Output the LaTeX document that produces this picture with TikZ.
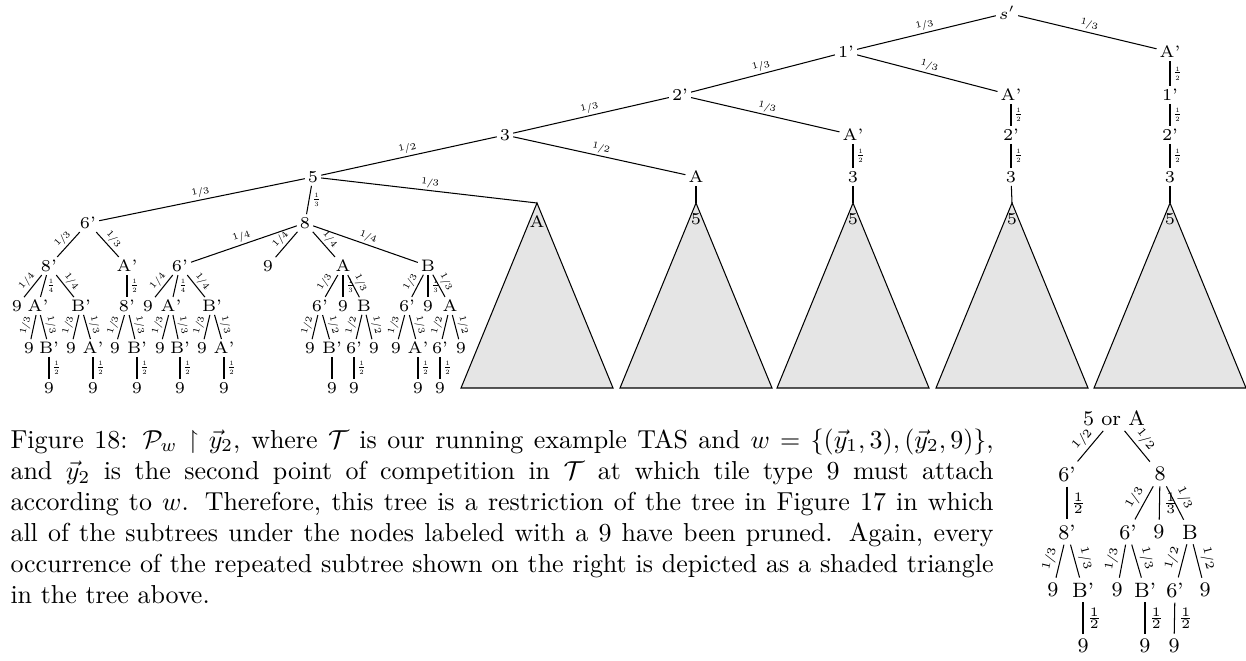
\RequirePackage{fix-cm}
\documentclass[tikz,border=0pt]{standalone}
\usepackage{amssymb}
\newcommand{\qfr}[2]{\raisebox{0.15em}{#1}\kern-0.05em/\kern-0.05em#2}
\newcommand{\hfr}[2]{$\frac{#1}{#2}$}
\tikzset{
  tn/.style={font=\fontsize{6.4}{7.5}\selectfont, inner sep=1pt},
  rn/.style={font=\fontsize{8}{9.5}\selectfont, inner sep=1.8pt},
  sl/.style={midway, sloped, above, inner sep=0.8pt, font=\fontsize{3.6}{4}\selectfont},
  fr/.style={midway, right, inner sep=0.7pt, font=\fontsize{3.6}{4}\selectfont},
  rsl/.style={midway, sloped, above, inner sep=1.3pt, font=\fontsize{4.6}{5.5}\selectfont},
  rfr/.style={midway, right, inner sep=1.2pt, font=\fontsize{5}{6}\selectfont},
  tri/.style={draw, fill=black!10},
  tl/.style={inner sep=0pt, font=\fontsize{6.4}{7.5}\selectfont},
  captxt/.style={anchor=north west, inner sep=0pt, text width=378.5pt, align=justify, font=\fontsize{10}{12}\selectfont},
}
\begin{document}
\begin{tikzpicture}[x=0.385pt, y=-0.385pt]
\useasboundingbox (0,0) rectangle (1246,660);
% ---------- top part ----------
\node[tn] (sp) at (1007,13) {$s'$};
\node[tn] (a1) at (846,52) {1'};
\node[tn] (b1) at (1170,52) {A'};
\node[tn] (a2) at (680,95) {2'};
\node[tn] (b2) at (1011,95) {A'};
\node[tn] (c2) at (1170,95) {1'};
\node[tn] (a3) at (505,135) {3};
\node[tn] (b3) at (853,135) {A'};
\node[tn] (c3) at (1011,135) {2'};
\node[tn] (d3) at (1170,135) {2'};
\node[tn] (a4) at (313,177) {5};
\node[tn] (b4) at (696,177) {A};
\node[tn] (c4) at (853,177) {3};
\node[tn] (d4) at (1011,177) {3};
\node[tn] (e4) at (1170,177) {3};
% ---------- triangles ----------
\coordinate (t1) at (537,203);
\coordinate (t2) at (696,203);
\coordinate (t3) at (853,203);
\coordinate (t4) at (1012,203);
\coordinate (t5) at (1170,203);
\draw[tri] (t1) -- ++(-76,185) -- ++(152,0) -- cycle;
\draw[tri] (t2) -- ++(-76,185) -- ++(152,0) -- cycle;
\draw[tri] (t3) -- ++(-76,185) -- ++(152,0) -- cycle;
\draw[tri] (t4) -- ++(-76,185) -- ++(152,0) -- cycle;
\draw[tri] (t5) -- ++(-76,185) -- ++(152,0) -- cycle;
\node[tl] (t1l) at (537,222) {A};
\node[tl] (t2l) at (696,219) {5};
\node[tl] (t3l) at (853,219) {5};
\node[tl] (t4l) at (1012,219) {5};
\node[tl] (t5l) at (1170,219) {5};
% ---------- left subtree ----------
\node[tn] (m6) at (88,223) {6'};
\node[tn] (m8) at (305,223) {8};
\node[tn] (p8) at (49,266) {8'};
\node[tn] (pA) at (127,266) {A'};
\node[tn] (q6) at (180,266) {6'};
\node[tn] (q9) at (268,266) {9};
\node[tn] (qA) at (343,266) {A};
\node[tn] (qB) at (428,266) {B};
\node[tn] (u1) at (17,306) {9};
\node[tn] (u2) at (38,306) {A'};
\node[tn] (u3) at (81,306) {B'};
\node[tn] (u4) at (127,306) {8'};
\node[tn] (u5) at (148,306) {9};
\node[tn] (u6) at (171,306) {A'};
\node[tn] (u7) at (212,306) {B'};
\node[tn] (u8) at (320,306) {6'};
\node[tn] (u9) at (343,306) {9};
\node[tn] (u10) at (364,306) {B};
\node[tn] (u11) at (407,306) {6'};
\node[tn] (u12) at (428,306) {9};
\node[tn] (u13) at (450,306) {A};
\node[tn] (v1) at (29,348) {9};
\node[tn] (v2) at (49,348) {B'};
\node[tn] (v3) at (71,348) {9};
\node[tn] (v4) at (93,348) {A'};
\node[tn] (v5) at (115,348) {9};
\node[tn] (v6) at (137,348) {B'};
\node[tn] (v7) at (160,348) {9};
\node[tn] (v8) at (180,348) {B'};
\node[tn] (v9) at (202,348) {9};
\node[tn] (v10) at (224,348) {A'};
\node[tn] (v11) at (310,348) {9};
\node[tn] (v12) at (332,348) {B'};
\node[tn] (v13) at (354,348) {6'};
\node[tn] (v14) at (374,348) {9};
\node[tn] (v15) at (396,348) {9};
\node[tn] (v16) at (418,348) {A'};
\node[tn] (v17) at (440,348) {6'};
\node[tn] (v18) at (461,348) {9};
\node[tn] (w1) at (49,388) {9};
\node[tn] (w2) at (93,388) {9};
\node[tn] (w3) at (137,388) {9};
\node[tn] (w4) at (180,388) {9};
\node[tn] (w5) at (224,388) {9};
\node[tn] (w6) at (332,388) {9};
\node[tn] (w7) at (354,388) {9};
\node[tn] (w8) at (418,388) {9};
\node[tn] (w9) at (440,388) {9};
% ---------- top edges ----------
\draw (sp) -- node[sl]{\qfr13} (a1);
\draw (sp) -- node[sl]{\qfr13} (b1);
\draw (a1) -- node[sl]{\qfr13} (a2);
\draw (a1) -- node[sl]{\qfr13} (b2);
\draw (b1) -- node[fr]{\hfr12} (c2);
\draw (a2) -- node[sl]{\qfr13} (a3);
\draw (a2) -- node[sl]{\qfr13} (b3);
\draw (b2) -- node[fr]{\hfr12} (c3);
\draw (c2) -- node[fr]{\hfr12} (d3);
\draw (a3) -- node[sl]{\qfr12} (a4);
\draw (a3) -- node[sl]{\qfr12} (b4);
\draw (b3) -- node[fr]{\hfr12} (c4);
\draw (c3) -- node[fr]{\hfr12} (d4);
\draw (d3) -- node[fr]{\hfr12} (e4);
\draw (a4) -- node[sl]{\qfr13} (m6);
\draw (a4) -- node[fr]{\hfr13} (m8);
\draw (a4) -- node[sl]{\qfr13} (t1);
\draw (b4) -- (t2);
\draw (c4) -- (t3);
\draw (d4) -- (t4);
\draw (e4) -- (t5);
% ---------- left subtree edges ----------
\draw (m6) -- node[sl]{\qfr13} (p8);
\draw (m6) -- node[sl]{\qfr13} (pA);
\draw (m8) -- node[sl]{\qfr14} (q6);
\draw (m8) -- node[sl]{\qfr14} (q9);
\draw (m8) -- node[sl]{\qfr14} (qA);
\draw (m8) -- node[sl]{\qfr14} (qB);
\draw (p8) -- node[sl]{\qfr14} (u1);
\draw (p8) -- node[fr]{\hfr14} (u2);
\draw (p8) -- node[sl]{\qfr14} (u3);
\draw (pA) -- node[fr]{\hfr12} (u4);
\draw (q6) -- node[sl]{\qfr14} (u5);
\draw (q6) -- node[fr]{\hfr14} (u6);
\draw (q6) -- node[sl]{\qfr14} (u7);
\draw (qA) -- node[sl]{\qfr13} (u8);
\draw (qA) -- node[fr]{\hfr13} (u9);
\draw (qA) -- node[sl]{\qfr13} (u10);
\draw (qB) -- node[sl]{\qfr13} (u11);
\draw (qB) -- node[fr]{\hfr13} (u12);
\draw (qB) -- node[sl]{\qfr13} (u13);
\draw (u2) -- node[sl]{\qfr13} (v1);
\draw (u2) -- node[sl]{\qfr13} (v2);
\draw (u3) -- node[sl]{\qfr13} (v3);
\draw (u3) -- node[sl]{\qfr13} (v4);
\draw (u4) -- node[sl]{\qfr13} (v5);
\draw (u4) -- node[sl]{\qfr13} (v6);
\draw (u6) -- node[sl]{\qfr13} (v7);
\draw (u6) -- node[sl]{\qfr13} (v8);
\draw (u7) -- node[sl]{\qfr13} (v9);
\draw (u7) -- node[sl]{\qfr13} (v10);
\draw (u8) -- node[sl]{\qfr12} (v11);
\draw (u8) -- node[sl]{\qfr12} (v12);
\draw (u10) -- node[sl]{\qfr12} (v13);
\draw (u10) -- node[sl]{\qfr12} (v14);
\draw (u11) -- node[sl]{\qfr13} (v15);
\draw (u11) -- node[sl]{\qfr13} (v16);
\draw (u13) -- node[sl]{\qfr12} (v17);
\draw (u13) -- node[sl]{\qfr12} (v18);
\draw (v2) -- node[fr]{\hfr12} (w1);
\draw (v4) -- node[fr]{\hfr12} (w2);
\draw (v6) -- node[fr]{\hfr12} (w3);
\draw (v8) -- node[fr]{\hfr12} (w4);
\draw (v10) -- node[fr]{\hfr12} (w5);
\draw (v12) -- (w6);
\draw (v13) -- node[fr]{\hfr12} (w7);
\draw (v16) -- node[fr]{\hfr12} (w8);
\draw (v17) -- node[fr]{\hfr12} (w9);
% ---------- right small tree ----------
\node[rn] (r0) at (1114,418) {5 or A};
\node[rn] (r1) at (1067,474) {6'};
\node[rn] (r2) at (1160,474) {8};
\node[rn] (r3) at (1067,532) {8'};
\node[rn] (r4) at (1128,532) {6'};
\node[rn] (r5) at (1159,532) {9};
\node[rn] (r6) at (1190,532) {B};
\node[rn] (r7) at (1053,590) {9};
\node[rn] (r8) at (1083,590) {B'};
\node[rn] (r9) at (1117,590) {9};
\node[rn] (r10) at (1145,590) {B'};
\node[rn] (r11) at (1175,590) {6'};
\node[rn] (r12) at (1205,590) {9};
\node[rn] (r13) at (1083,646) {9};
\node[rn] (r14) at (1145,646) {9};
\node[rn] (r15) at (1174,646) {9};
\draw (r0) -- node[rsl]{\qfr12} (r1);
\draw (r0) -- node[rsl]{\qfr12} (r2);
\draw (r1) -- node[rfr]{\hfr12} (r3);
\draw (r2) -- node[rsl]{\qfr13} (r4);
\draw (r2) -- node[rfr]{\hfr13} (r5);
\draw (r2) -- node[rsl]{\qfr13} (r6);
\draw (r3) -- node[rsl]{\qfr13} (r7);
\draw (r3) -- node[rsl]{\qfr13} (r8);
\draw (r4) -- node[rsl]{\qfr13} (r9);
\draw (r4) -- node[rsl]{\qfr13} (r10);
\draw (r6) -- node[rsl]{\qfr12} (r11);
\draw (r6) -- node[rsl]{\qfr12} (r12);
\draw (r8) -- node[rfr]{\hfr12} (r13);
\draw (r10) -- node[rfr]{\hfr12} (r14);
\draw (r11) -- node[rfr]{\hfr12} (r15);
% ---------- caption ----------
\node[captxt] (cap) at (10,428) {Figure 18: $\mathcal{P}_w \restriction \vec{y}_2$, where $\mathcal{T}$ is our running example TAS and $w = \{(\vec{y}_1, 3), (\vec{y}_2, 9)\}$,\linebreak
and $\vec{y}_2$ is the second point of competition in $\mathcal{T}$ at which tile type 9 must attach\linebreak
according to $w$. Therefore, this tree is a restriction of the tree in Figure 17 in which\linebreak
all of the subtrees under the nodes labeled with a 9 have been pruned. Again, every\linebreak
occurrence of the repeated subtree shown on the right is depicted as a shaded triangle\linebreak
in the tree above.};
\end{tikzpicture}
\end{document}
